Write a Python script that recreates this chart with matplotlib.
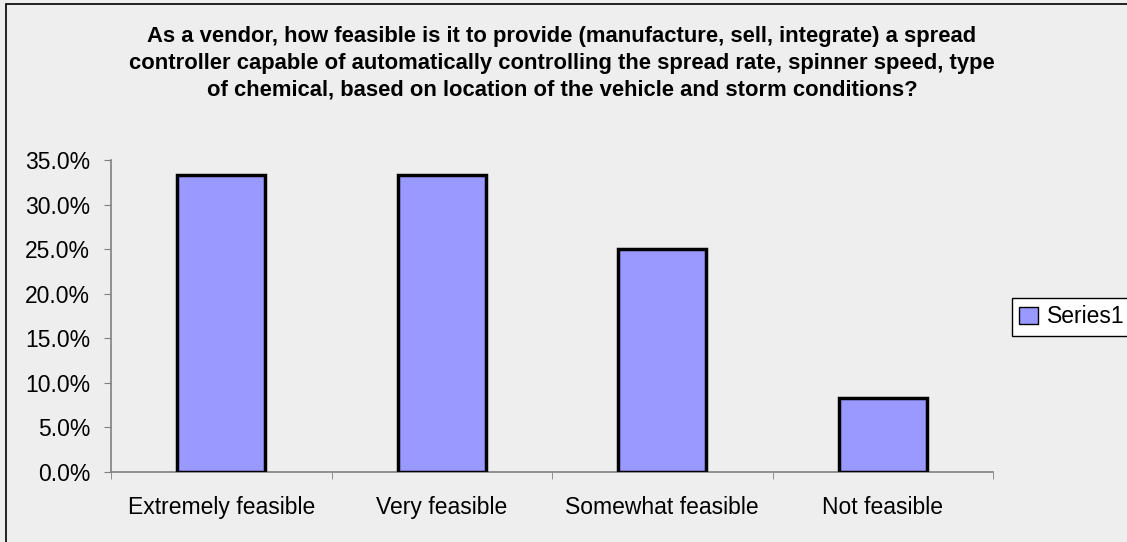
import matplotlib
matplotlib.use('Agg')
import matplotlib.pyplot as plt
import numpy as np
from matplotlib.patches import Rectangle
from matplotlib.ticker import FuncFormatter, FixedLocator

categories = ['Extremely feasible', 'Very feasible', 'Somewhat feasible', 'Not feasible']
values = [0.333, 0.333, 0.25, 0.083]
series_name = 'Series1'
title = ('As a vendor, how feasible is it to provide (manufacture, sell, integrate) a spread\n'
         'controller capable of automatically controlling the spread rate, spinner speed, type\n'
         'of chemical, based on location of the vehicle and storm conditions?')

plt.rcParams['font.family'] = 'Liberation Sans'

W, H = 1127, 542
fig = plt.figure(figsize=(W / 100, H / 100), dpi=100, facecolor='#eeeeee')
ax = fig.add_axes([111 / W, 1 - 472 / H, (993 - 111) / W, (472 - 160) / H])
ax.set_facecolor('#eeeeee')

# outer chart frame
fig.patches.append(Rectangle((6 / W, -0.05), 1.1, 1 - 4 / H + 0.05, transform=fig.transFigure,
                             fill=False, edgecolor='black', linewidth=1.2))

x = np.arange(len(categories))
ax.bar(x, values, width=0.4, color='#9999ff', edgecolor='black', linewidth=2.5,
       label=series_name, zorder=3)

ax.set_xlim(-0.5, len(categories) - 0.5)
ax.set_ylim(0, 0.35)
ax.set_yticks(np.arange(0, 0.351, 0.05))
ax.yaxis.set_major_formatter(FuncFormatter(lambda v, p: f'{v * 100:.1f}%'))
ax.set_xticks(x)
ax.set_xticklabels(categories)
ax.xaxis.set_minor_locator(FixedLocator(np.arange(-0.5, len(categories), 1.0)))
ax.tick_params(axis='x', which='major', length=0, pad=17, labelsize=16.5)
ax.tick_params(axis='x', which='minor', length=5, color='#808080', direction='out')
ax.tick_params(axis='y', length=5, color='#808080', direction='out', pad=10, labelsize=16.5)

for s in ['top', 'right']:
    ax.spines[s].set_visible(False)
for s in ['left', 'bottom']:
    ax.spines[s].set_color('#808080')
    ax.spines[s].set_linewidth(1.2)

fig.text(562 / W, 1 - 26 / H, title, ha='center', va='top', fontsize=15.8,
         fontweight='bold', linespacing=1.36)

leg = ax.legend(loc='upper left', bbox_to_anchor=(1012 / W, 1 - 298 / H),
                bbox_transform=fig.transFigure, fancybox=False, framealpha=1,
                edgecolor='black', fontsize=16.5, handlelength=0.8, handleheight=0.8,
                handletextpad=0.4, borderpad=0.32, borderaxespad=0)
leg.get_frame().set_linewidth(1.0)
for h in leg.legend_handles:
    h.set_linewidth(1.0)

fig.savefig('out.png', dpi=100, facecolor='#eeeeee')
